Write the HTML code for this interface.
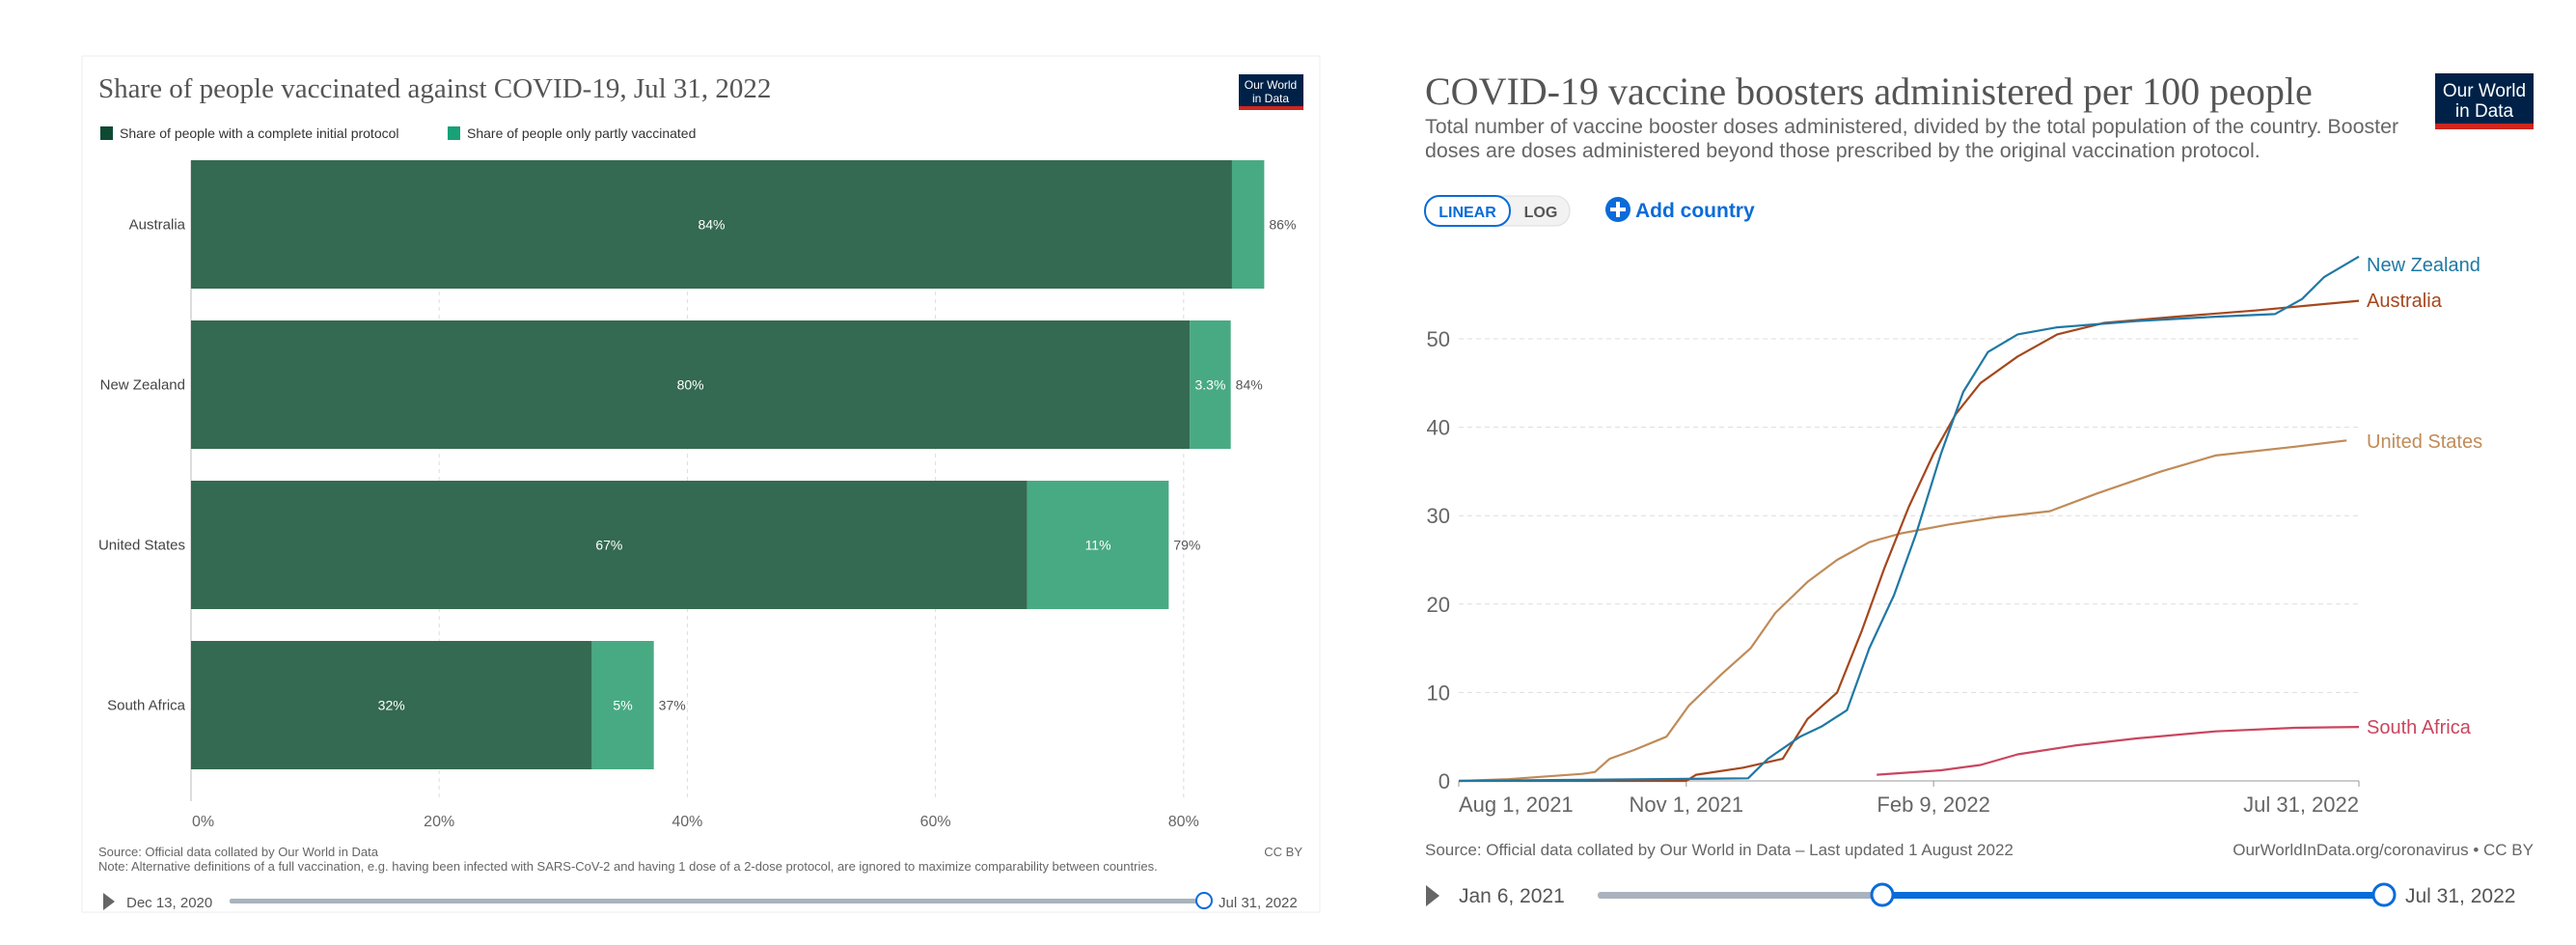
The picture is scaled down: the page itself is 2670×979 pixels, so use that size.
<!DOCTYPE html>
<html><head><meta charset="utf-8">
<style>
html,body{margin:0;padding:0;background:#fff;}
svg text{font-family:"Liberation Sans",sans-serif;}
.serif{font-family:"Liberation Serif",serif !important;}
</style></head>
<body>
<svg id="root" width="2670" height="974" viewBox="0 0 2670 974" xmlns="http://www.w3.org/2000/svg">
<!-- LEFT PANEL -->
<g>
<rect x="85" y="58" width="1283" height="887" fill="#fff" stroke="#eee"/>
<text class="serif" x="102" y="101" font-size="29" fill="#555">Share of people vaccinated against COVID-19, Jul 31, 2022</text>
<g>
<rect x="1284" y="77" width="67" height="37" fill="#002147"/>
<rect x="1284" y="110" width="67" height="4" fill="#ce261e"/>
<text x="1317" y="92" font-size="12" fill="#fff" text-anchor="middle">Our World</text>
<text x="1317" y="106" font-size="12" fill="#fff" text-anchor="middle">in Data</text>
</g>
<g>
<rect x="104" y="131" width="13" height="14" fill="#0e4a33"/>
<text x="124" y="143" font-size="14" fill="#333">Share of people with a complete initial protocol</text>
<rect x="464" y="131" width="13" height="14" fill="#18a176"/>
<text x="484" y="143" font-size="14" fill="#333">Share of people only partly vaccinated</text>
</g>
<g id="barChart"></g>
<text x="102" y="887" font-size="13" fill="#666">Source: Official data collated by Our World in Data</text>
<text x="102" y="902" font-size="13" fill="#666">Note: Alternative definitions of a full vaccination, e.g. having been infected with SARS-CoV-2 and having 1 dose of a 2-dose protocol, are ignored to maximize comparability between countries.</text>
<text x="1350" y="887" font-size="13" fill="#666" text-anchor="end">CC BY</text>
<g>
<polygon points="107,925 107,943 119,934" fill="#666"/>
<text x="131" y="940" font-size="15" fill="#555">Dec 13, 2020</text>
<rect x="238" y="931" width="1010" height="5" rx="2" fill="#aab3bd"/>
<circle cx="1248" cy="933" r="8" fill="#fff" stroke="#0a6bd9" stroke-width="2"/>
<text x="1263" y="940" font-size="15" fill="#555">Jul 31, 2022</text>
</g>
</g>

<!-- RIGHT PANEL -->
<g>
<text class="serif" x="1477" y="108" font-size="40" fill="#555">COVID-19 vaccine boosters administered per 100 people</text>
<text x="1477" y="138" font-size="21.4" fill="#666">Total number of vaccine booster doses administered, divided by the total population of the country. Booster</text>
<text x="1477" y="163" font-size="21.4" fill="#666">doses are doses administered beyond those prescribed by the original vaccination protocol.</text>
<g>
<rect x="2524" y="76" width="102" height="58" fill="#002147"/>
<rect x="2524" y="128" width="102" height="6" fill="#ce261e"/>
<text x="2575" y="100" font-size="19" fill="#fff" text-anchor="middle">Our World</text>
<text x="2575" y="121" font-size="19" fill="#fff" text-anchor="middle">in Data</text>
</g>
<g>
<rect x="1477" y="203" width="150" height="31" rx="15" fill="#f2f2f2" stroke="#ddd"/>
<rect x="1477" y="203" width="88" height="31" rx="15" fill="#fff" stroke="#0a6bd9" stroke-width="2"/>
<text x="1521" y="225" font-size="16" fill="#0a6bd9" text-anchor="middle" font-weight="bold">LINEAR</text>
<text x="1597" y="225" font-size="16" fill="#555" text-anchor="middle" font-weight="bold">LOG</text>
</g>
<g>
<circle cx="1677" cy="217" r="13" fill="#0a6bd9"/>
<rect x="1669" y="215" width="16" height="4" fill="#fff"/><rect x="1675" y="209" width="4" height="16" fill="#fff"/>
<text x="1695" y="225" font-size="21" fill="#0a6bd9" font-weight="bold">Add country</text>
</g>
<g id="lineChart"></g>
<text x="1477" y="886" font-size="17" fill="#666">Source: Official data collated by Our World in Data – Last updated 1 August 2022</text>
<text x="2626" y="886" font-size="17" fill="#666" text-anchor="end">OurWorldInData.org/coronavirus • CC BY</text>
<g>
<polygon points="1478,917 1478,939 1492,928" fill="#666"/>
<text x="1512" y="935" font-size="21" fill="#555">Jan 6, 2021</text>
<rect x="1656" y="924" width="815" height="7" rx="3" fill="#aab3bd"/>
<rect x="1951" y="924" width="520" height="7" fill="#0a6bd9"/>
<circle cx="1951" cy="927" r="11" fill="#fff" stroke="#0a6bd9" stroke-width="3"/>
<circle cx="2471" cy="927" r="11" fill="#fff" stroke="#0a6bd9" stroke-width="3"/>
<text x="2493" y="935" font-size="21" fill="#555">Jul 31, 2022</text>
</g>
</g>
</svg>
<script>
// ---- BAR CHART DATA ----
const barCountries = ["Australia","New Zealand","United States","South Africa"];
const fullValues = [83.9, 80.5, 67.4, 32.3];
const partialValues = [2.6, 3.3, 11.4, 5.0];
const fullLabels = ["84%","80%","67%","32%"];
const partialLabels = ["","3.3%","11%","5%"];
const totalLabels = ["86%","84%","79%","37%"];
const xTicks = [0,20,40,60,80];
const xTickLabels = ["0%","20%","40%","60%","80%"];

// ---- LINE CHART DATA (day since Aug 1 2021, value) ----
const dateTickDays = [0, 92, 192, 364];
const dateTickLabels = ["Aug 1, 2021","Nov 1, 2021","Feb 9, 2022","Jul 31, 2022"];
const yTicks = [0,10,20,30,40,50];
const lineCountries = ["New Zealand","Australia","United States","South Africa"];
const nzDays =   [0,117,125,138,147,157,166,176,185,195,204,214,226,242,274,306,330,341,350,364];
const nzValues = [0,0.3,2.5,5,6.2,8,15,21,28,37,44,48.5,50.5,51.3,52,52.5,52.8,54.5,57,59.3];
const auDays =   [0,92,96,115,131,141,153,163,172,182,192,201,211,226,242,261,290,322,364];
const auValues = [0,0,0.7,1.5,2.5,7,10,17,24,31,37,41.5,45,48,50.5,51.8,52.5,53.2,54.3];
const usDays =   [0,20,50,55,61,71,84,93,106,118,128,141,153,166,179,198,217,239,258,284,306,338,359];
const usValues = [0,0.2,0.8,1,2.5,3.5,5,8.5,12,15,19,22.5,25,27,28,29,29.8,30.5,32.5,35,36.8,37.8,38.5];
const saDays =   [169,195,211,226,249,274,306,338,364];
const saValues = [0.7,1.2,1.8,3,4,4.8,5.6,6,6.1];

const NS = "http://www.w3.org/2000/svg";
function mk(parent, tag, attrs, txt){
  const e = document.createElementNS(NS, tag);
  for (const k in attrs) e.setAttribute(k, attrs[k]);
  if (txt !== undefined) e.textContent = txt;
  parent.appendChild(e); return e;
}

// Bar chart
(function(){
  const g = document.getElementById('barChart');
  const x0 = 198, pxPer = 12.86;
  const xs = v => x0 + v*pxPer;
  const top = 166, band = 166, bh = 133, bottom = 830;
  xTicks.forEach((t,i)=>{
    if (t>0){
      const l = mk(g,'line',{x1:xs(t),x2:xs(t),y1:top,y2:bottom,stroke:'#ddd','stroke-dasharray':'4,4'});
      
      
    }
    const tx = mk(g,'text',{x:t===0?xs(t)+1:xs(t),y:856,'font-size':16,fill:'#666','text-anchor':t===0?'start':'middle'},xTickLabels[i]);
    
    
  });
  const ax = mk(g,'line',{x1:x0,x2:x0,y1:top,y2:bottom,stroke:'#bbb'});
  
  
  barCountries.forEach((c,i)=>{
    const y = top + i*band;
    const cy = y + bh/2;
    const lab = mk(g,'text',{x:192,y:cy+5,'font-size':15,fill:'#444','text-anchor':'end'},c);
    
    
    const b1 = mk(g,'rect',{x:x0,y:y,width:fullValues[i]*pxPer,height:bh,fill:'#346a51'});
    
    
    const b2 = mk(g,'rect',{x:xs(fullValues[i]),y:y,width:partialValues[i]*pxPer,height:bh,fill:'#48aa83'});
    
    
    const t1 = mk(g,'text',{x:x0+fullValues[i]*pxPer/2,y:cy+5,'font-size':14,fill:'#fff','text-anchor':'middle'},fullLabels[i]);
    
    
    if (partialLabels[i]){
      const t2 = mk(g,'text',{x:xs(fullValues[i]+partialValues[i]/2),y:cy+5,'font-size':14,fill:'#fff','text-anchor':'middle'},partialLabels[i]);
      
      
    }
    const t3 = mk(g,'text',{x:xs(fullValues[i]+partialValues[i])+5,y:cy+5,'font-size':14,fill:'#555'},totalLabels[i]);
    
    
  });
})();

// Line chart
(function(){
  const g = document.getElementById('lineChart');
  const xL = 1512, xR = 2445, yB = 809, per10 = 91.6;
  const xs = d => xL + d*(xR-xL)/364;
  const ys = v => yB - v*per10/10;
  yTicks.forEach(t=>{
    if (t>0){
      const l = mk(g,'line',{x1:xL,x2:xR,y1:ys(t),y2:ys(t),stroke:'#ddd','stroke-dasharray':'5,4'});
      
      
    }
    const tx = mk(g,'text',{x:1503,y:ys(t)+8,'font-size':22,fill:'#666','text-anchor':'end'},String(t));
    
    
  });
  const ax = mk(g,'line',{x1:xL,x2:xR,y1:yB,y2:yB,stroke:'#999'});
  
  
  dateTickDays.forEach((d,i)=>{
    const tk = mk(g,'line',{x1:xs(d),x2:xs(d),y1:yB,y2:yB+6,stroke:'#999'});
    
    
    const anchor = i===0?'start':(i===dateTickDays.length-1?'end':'middle');
    const tx = mk(g,'text',{x:xs(d),y:841,'font-size':22,fill:'#666','text-anchor':anchor},dateTickLabels[i]);
    
    
  });
  const series = [
    {days:usDays, vals:usValues, color:'#c08b58', labelY:464},
    {days:saDays, vals:saValues, color:'#c9465e', labelY:760},
    {days:auDays, vals:auValues, color:'#a4471e', labelY:318},
    {days:nzDays, vals:nzValues, color:'#1f78a4', labelY:281}
  ];
  const names = ["United States","South Africa","Australia","New Zealand"];
  series.forEach((s,i)=>{
    const pts = s.days.map((d,j)=>xs(d).toFixed(1)+','+ys(s.vals[j]).toFixed(1)).join(' ');
    const p = mk(g,'polyline',{points:pts,fill:'none',stroke:s.color,'stroke-width':2.2,'stroke-linejoin':'round'});
    
    
    const t = mk(g,'text',{x:2453,y:s.labelY,'font-size':20,fill:s.color},names[i]);
    
    
  });
})();
</script>
</body></html>
